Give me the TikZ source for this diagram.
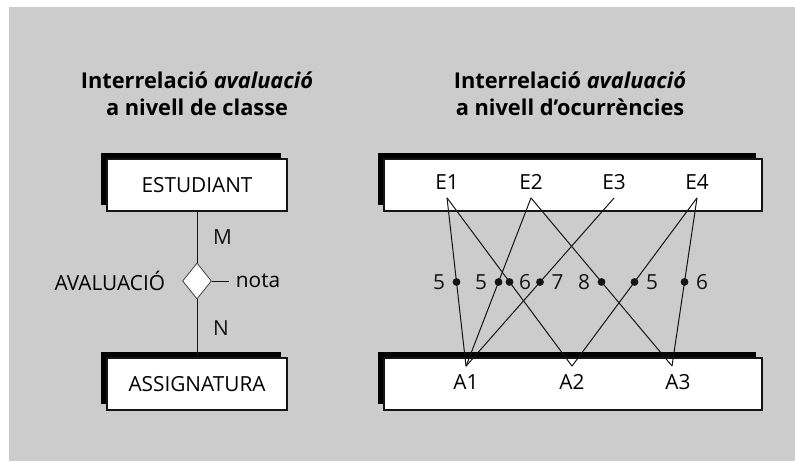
\documentclass[tikz,border=0pt]{standalone}
\usepackage{fontspec}
\setmainfont{Open Sans}
\usetikzlibrary{positioning,shapes.geometric,shadows}
\definecolor{panel}{RGB}{204,204,204}
\definecolor{ink}{RGB}{20,20,20}

\begin{document}
\begin{tikzpicture}[
  x=0.5pt, y=-0.5pt, font=\fontsize{10.4}{12}\selectfont,
  ent/.style={draw=ink, line width=0.6pt, fill=white, minimum width=90pt, minimum height=26pt, inner sep=0pt,
    drop shadow={shadow xshift=-3pt, shadow yshift=3pt, fill=black, opacity=1}},
  occ/.style={ent, minimum width=189pt},
  ttl/.style={font=\fontsize{10.9}{13.5}\selectfont\bfseries, align=center},
  rel/.style={diamond, draw=ink!80, line width=0.4pt, fill=white, inner sep=0pt, minimum width=14.5pt, minimum height=18pt},
  lnk/.style={ink, line width=0.5pt},
  val/.style={circle, fill=ink, inner sep=0pt, minimum size=3.9pt, label distance=1pt},
  eid/.style={inner sep=4pt},
]
\useasboundingbox (0,0) rectangle (795,461);
\fill[panel] (9,7) rectangle (795,461);
% class level
\node[ttl] (ttlclass) at (197,94) {Interrelació \textit{avaluació}\\a nivell de classe};
\node[ent] (estudiant) at (197,185) {ESTUDIANT};
\node[ent] (assig) at (197,384) {ASSIGNATURA};
\node[rel] (avalua) at (197,281) {};
\node[left=5pt of avalua] (nomrel) {AVALUACIÓ};
\node[right=8.5pt of avalua] (nota) {nota};
\draw[lnk] (estudiant) -- node[right=4.5pt]{M} (avalua);
\draw[lnk] (avalua) -- node[right=4.5pt]{N} (assig);
\draw[lnk] (avalua.east) -- (nota.west);
% occurrence level
\node[ttl] (ttlocc) at (570,94) {Interrelació \textit{avaluació}\\a nivell d’ocurrències};
\node[occ] (ebox) at (573,185) {};
\node[occ] (abox) at (573,384) {};
\node[eid] (e1) at (447,182) {E1};
\node[eid] (e2) at (531,182) {E2};
\node[eid] (e3) at (614,182) {E3};
\node[eid] (e4) at (697,182) {E4};
\node[eid] (a1) at (466,382) {A1};
\node[eid] (a2) at (572,382) {A2};
\node[eid] (a3) at (678,382) {A3};
\draw[lnk] (e1.south) -- node[val, label=left:5]{} (a1.north);
\draw[lnk] (e1.south) -- node[val, label={[label distance=-1pt]right:6}]{} (a2.north);
\draw[lnk] (e2.south) -- node[val, label=left:5]{} (a1.north);
\draw[lnk] (e2.south) -- node[val, label=left:8]{} ([xshift=-3pt]a3.north);
\draw[lnk] (e3.south) -- node[val, label=right:7]{} (a1.north);
\draw[lnk] (e4.south) -- node[val, label=right:5]{} (a2.north);
\draw[lnk] (e4.south) -- node[val, label=right:6]{} ([xshift=-3pt]a3.north);
\end{tikzpicture}
\end{document}
